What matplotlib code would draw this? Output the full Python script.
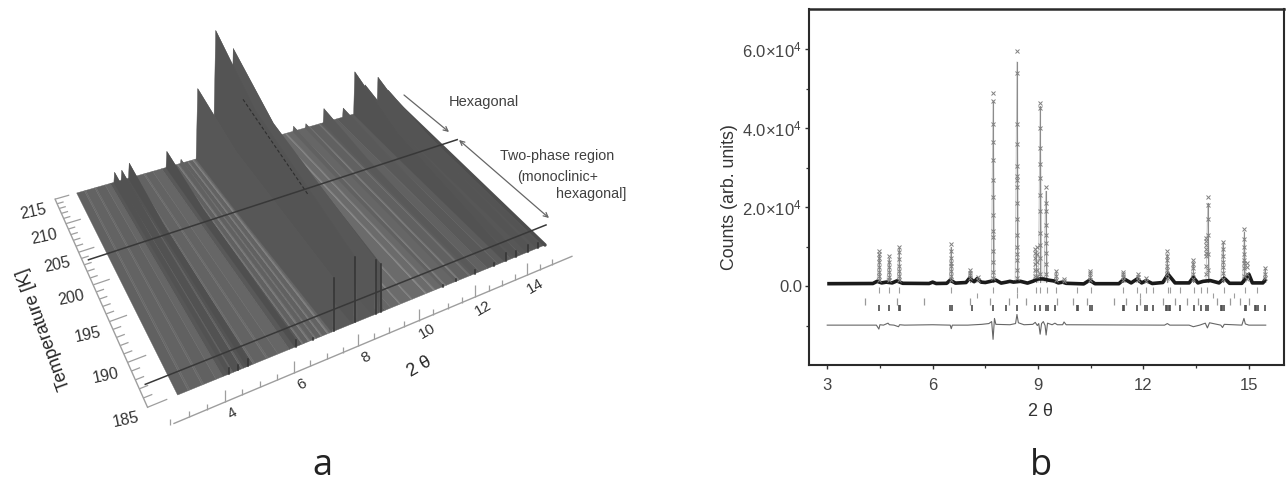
import numpy as np
import matplotlib
matplotlib.use("Agg")
import matplotlib.pyplot as plt
from matplotlib.collections import PolyCollection, LineCollection
from matplotlib.transforms import Transform
from matplotlib.ticker import FixedLocator, FixedFormatter

plt.rcParams['font.family'] = ['Liberation Sans', 'DejaVu Sans']
plt.rcParams['mathtext.default'] = 'regular'

# ---------- panel a data ----------
strip_edges = [3.0, 3.3, 3.35, 3.7, 3.75, 4.1, 4.3, 4.55, 4.6, 4.85, 4.9, 5.2, 5.25, 5.6, 5.65, 5.95, 6.3, 6.7, 6.74,
               6.9, 6.95, 7.1, 7.14, 7.3, 7.34, 7.5, 7.55, 7.7, 9.4, 9.6, 9.9, 9.94, 10.3, 10.34, 10.8, 10.85,
               11.1, 11.15, 11.5, 11.55, 12.0, 12.05, 12.4, 12.45, 12.8, 13.1, 13.5, 14.0, 14.4, 14.8, 15.4]
strip_grey = [0.38, 0.41, 0.39, 0.41, 0.38, 0.40, 0.34, 0.39, 0.32, 0.39, 0.33, 0.42, 0.39, 0.42, 0.39, 0.40, 0.35,
              0.45, 0.38, 0.47, 0.39, 0.45, 0.38, 0.47, 0.39, 0.49, 0.40, 0.35, 0.40, 0.41, 0.50, 0.42, 0.50, 0.42,
              0.52, 0.42, 0.50, 0.41, 0.48, 0.40, 0.47, 0.38, 0.42, 0.36, 0.38, 0.35, 0.36, 0.34, 0.34, 0.34]
ridge_T = [215, 204, 185]
peak_2theta = [15.1, 14.7, 14.2, 13.8, 13.35, 12.6, 11.9, 11.42, 9.25, 9.08, 8.4, 7.7, 7.05, 6.5, 5.04, 4.75, 4.47]
peak_height = [[14, 7, 5], [30, 14, 7], [26, 14, 6], [42, 22, 8], [9, 6, 3], [14, 8, 4], [4, 3, 2], [5, 4, 2],
               [88, 62, 48], [100, 73, 54], [123, 92, 65], [70, 57, 53], [4, 3, 2], [16, 10, 7],
               [15, 9, 7], [10, 7, 5], [10, 7, 6]]
peak_grey = [0.33, 0.33, 0.33, 0.32, 0.35, 0.35, 0.38, 0.38, 0.33, 0.34, 0.33, 0.34, 0.38, 0.31, 0.31, 0.32, 0.32]
boundary_T = [203.5, 187.2]
t_ticks = list(range(185, 216, 5))
t_minor = list(range(185, 216))
tt_ticks = [4, 6, 8, 10, 12, 14]
tt_minor = [2.5 + 0.5 * i for i in range(26)]

# ---------- panel b data ----------
bg_2theta = [3.0, 4.3, 4.42, 4.55, 4.68, 4.85, 4.98, 5.15, 5.9, 6.0, 6.1, 6.4, 6.5, 6.65, 6.95, 7.05, 7.18, 7.27,
             7.38, 7.5, 7.65, 7.8, 7.95, 8.1, 8.2, 8.3, 8.5, 8.7, 8.85, 9.0, 9.15, 9.3, 9.45, 9.58, 9.7, 9.8,
             10.3, 10.47, 10.62, 11.3, 11.45, 11.65, 11.82, 11.95, 12.08, 12.25, 12.55, 12.7, 12.9, 13.3, 13.42,
             13.55, 13.7, 13.9, 14.15, 14.3, 14.45, 14.8, 15.0, 15.1, 15.4, 15.48]
bg_counts = [600, 650, 1200, 800, 1000, 800, 1300, 700, 650, 1000, 650, 700, 1500, 750, 900, 2000, 1100, 1900,
             1000, 900, 1200, 1500, 750, 1000, 1200, 1000, 1200, 750, 1200, 1800, 1800, 1500, 1300, 800, 1000, 700,
             550, 1500, 600, 600, 1800, 800, 1800, 800, 1400, 650, 900, 3000, 800, 800, 2200, 800, 1200, 1400,
             800, 2000, 700, 700, 3000, 800, 800, 1800]
obs_centers = [4.47, 4.75, 5.04, 6.52, 7.05, 7.3, 7.72, 8.4, 8.9, 8.98, 9.06, 9.22, 9.5, 9.75, 10.47, 11.42,
               11.85, 12.08, 12.67, 13.4, 13.78, 13.83, 14.25, 14.87, 14.95, 15.45]
obs_counts = [
    [1500, 2500, 3600, 4800, 6000, 7200, 8200, 8800],
    [1500, 2400, 3500, 4800, 6200, 7700],
    [1500, 2600, 3800, 5100, 6800, 8600, 10000],
    [1500, 2600, 3800, 5200, 5900, 7200, 8800, 10600],
    [2000, 2800, 3400, 4000],
    [1500, 2200],
    [2000, 3500, 6000, 9000, 12500, 14000, 18000, 22500, 27000, 32000, 36500, 41000, 47000, 49000],
    [2000, 4000, 6500, 8000, 10000, 13000, 17000, 21000, 25000, 27000, 28000, 30500, 36000, 41000, 54000, 59500],
    [2500, 4000, 5500, 7000, 8300, 9500],
    [2500, 4000, 6000, 8000, 10000],
    [3000, 7000, 10500, 13500, 19000, 23000, 27500, 31000, 35000, 40000, 45000, 46500],
    [3000, 5500, 8500, 11000, 13000, 15500, 19000, 21000, 25000],
    [1500, 2500, 3800],
    [1200, 1700],
    [1500, 2400, 3200, 3800],
    [1500, 2300, 3000, 3600],
    [1600, 2300, 3000],
    [1300, 2000],
    [2000, 3000, 4000, 5000, 6500, 7500, 8800],
    [1800, 3000, 4500, 5500, 6700],
    [3000, 5000, 7500, 8500, 9500, 10500, 11500, 12300],
    [4000, 8000, 13000, 17000, 20500, 22500],
    [1800, 3200, 4800, 6000, 7500, 9500, 11200],
    [2500, 4500, 5800, 6500, 8000, 10000, 12000, 14500],
    [1800, 3000, 4800, 5800],
    [2000, 3000, 4500],
]
fit_centers = [4.47, 4.75, 5.04, 6.52, 7.05, 7.72, 8.4, 8.93, 9.06, 9.22, 9.5, 10.47, 11.42, 11.85, 12.67, 13.4,
               13.83, 14.25, 14.87, 15.45]
fit_peak = [8200, 7200, 9600, 9800, 3800, 47000, 56800, 9000, 45500, 24000, 3500, 3500, 3400, 2800, 8200, 6200,
            21000, 10800, 13800, 4200]
bragg_row1 = [4.48, 4.75, 5.05, 6.52, 7.73, 8.41, 8.95, 9.06, 9.25, 9.50, 10.12, 10.50, 11.43, 11.83, 12.08, 12.27,
              12.69, 12.76, 13.05, 13.43, 13.64, 13.81, 14.28, 14.90, 15.23]
bragg_row2 = [7.27, 8.41, 11.89, 13.98, 14.57]
bragg_row3 = [4.07, 5.0, 5.76, 7.05, 7.62, 8.16, 8.66, 9.55, 9.99, 10.39, 11.17, 11.51, 11.91, 12.57, 12.91, 13.24,
              13.54, 14.09, 14.45, 14.74, 15.0]
bragg_row4 = [4.48, 4.75, 5.03, 5.07, 6.50, 6.54, 7.11, 7.73, 8.09, 8.40, 8.92, 9.06, 9.23, 9.27, 9.48, 10.10, 10.14,
              10.48, 10.53, 11.41, 11.45, 11.83, 12.04, 12.09, 12.27, 12.64, 12.68, 12.72, 12.76, 13.05, 13.43, 13.64,
              13.79, 13.83, 14.2, 14.24, 14.28, 14.88, 14.92, 15.17, 15.21, 15.25, 15.47]
diff_2theta = [3.0, 4.4, 4.47, 4.5, 4.6, 4.73, 4.77, 4.9, 5.03, 5.06, 5.2, 6.0, 6.5, 6.53, 6.56, 7.0, 7.4, 7.6, 7.68,
               7.72, 7.76, 7.8, 8.2, 8.36, 8.4, 8.44, 8.6, 8.85, 8.92, 8.98, 9.02, 9.06, 9.1, 9.15, 9.2, 9.23, 9.27,
               9.4, 9.48, 9.55, 9.7, 9.74, 9.8, 12.6, 12.68, 12.75, 13.3, 13.42, 13.6, 13.76, 13.82, 13.88, 14.2,
               14.25, 14.3, 14.8, 14.86, 14.9, 15.0, 15.48]
diff_counts = [-9900, -9900, -10900, -9800, -9900, -9400, -9800, -9900, -10300, -9800, -9900, -9800, -9900, -10800,
               -9900, -9900, -9700, -9500, -9000, -13500, -8200, -9700, -9800, -9500, -7200, -9300, -9800, -9700,
               -9200, -10000, -9500, -12200, -9500, -9000, -10000, -12400, -9400, -9800, -9400, -9800, -9800, -9100,
               -9800, -9900, -9500, -9900, -9900, -10300, -9900, -9400, -10600, -9300, -9900, -10500, -9700, -9900,
               -8200, -9600, -9900, -9900]


class SurfaceProjection(Transform):
    """Maps (2 theta, temperature, height) on to the perspective view of panel a."""
    input_dims = 3
    output_dims = 2
    has_inverse = False
    A = np.array([177.6, 395.0])
    B = np.array([545.0, 245.0])
    C = np.array([396.0, 102.0])
    D = np.array([76.7, 193.0])

    def transform_non_affine(self, values):
        vals = np.asarray(values, dtype=float)
        u = (vals[:, 0] - 3.0) / 12.4
        v = (vals[:, 1] - 185.0) / 30.0
        f = v + 0.35 * v * (1 - v)
        us = u + 0.195 * (1 - f) * u * (1 - u)
        front = self.A[None, :] + us[:, None] * (self.B - self.A)[None, :]
        back = self.D[None, :] + us[:, None] * (self.C - self.D)[None, :]
        p = (1 - f)[:, None] * front + f[:, None] * back
        p[:, 1] -= vals[:, 2]
        return p

    def transform(self, values):
        return self.transform_non_affine(values)


proj = SurfaceProjection()


def P(tt, T, z=0.0):
    tt, T, z = np.broadcast_arrays(np.atleast_1d(tt), np.atleast_1d(T), np.atleast_1d(z))
    return proj.transform(np.column_stack([tt, T, z]))


fig = plt.figure(figsize=(12.87, 4.83), dpi=100, facecolor='white')

# ---------- panel a ----------
axa = fig.add_axes([0, 0, 640 / 1287, 1])
axa.set_xlim(0, 640)
axa.set_ylim(483, 0)
axa.axis('off')

polys, cols = [], []
for i, g in enumerate(strip_grey):
    l, r = strip_edges[i], strip_edges[i + 1]
    Ts = [185, 215, 215, 185]
    polys.append(P([l, l, r, r], Ts))
    cols.append(str(g))
axa.add_collection(PolyCollection(polys, facecolors=cols, edgecolors=cols, linewidths=0.3, zorder=1))

axa.plot(*P([15.4, 15.4], [185, 215]).T, color='0.30', lw=2.5, zorder=1.5, solid_capstyle='round')

Ts_r = np.array(ridge_T, dtype=float)
for pos, hts, g in zip(peak_2theta, peak_height, peak_grey):
    w = 0.02 + 0.0006 * max(hts)
    ridge = P(np.full(3, pos), Ts_r, np.array(hts, dtype=float))
    foot_l = P(np.full(3, pos - w), Ts_r)
    foot_r = P(np.full(3, pos + w), Ts_r)
    axa.add_patch(plt.Polygon(np.vstack([foot_r, ridge[::-1]]), closed=True, fc=str(g + 0.03), ec='none', zorder=2))
    axa.add_patch(plt.Polygon(np.vstack([foot_l, ridge[::-1]]), closed=True, fc=str(g), ec=str(g), lw=0.3, zorder=2))
    axa.plot(*np.vstack([ridge[-1], P(pos, 185)]).T, color='0.2', lw=1.1, zorder=2.1)

dash = P([8.4, 8.4], [207, 193], [88, 72])
axa.plot(*dash.T, color='0.18', lw=0.8, ls=(0, (3, 2)), zorder=2.2)

for T0 in boundary_T:
    ln = P([2.35, 16.05], [T0, T0])
    axa.plot(*ln.T, color='0.22', lw=1.1, zorder=3)

# axes of panel a
axis_T = 182.6
axis_tt = 2.16
ax_col = '0.62'
axa.plot(*P([2.6, 15.85], [axis_T, axis_T]).T, color=ax_col, lw=1.0, zorder=1)
axa.plot(*P([axis_tt, axis_tt], [185, 215]).T, color=ax_col, lw=1.0, zorder=1)
segs = []
for tv in tt_minor:
    major = tv in tt_ticks
    segs.append(P([tv, tv], [axis_T, axis_T], [0, 12 if major else 6]))
for Tv in t_minor:
    major = Tv in t_ticks
    segs.append(P([axis_tt, axis_tt + (0.55 if major else 0.25)], [Tv, Tv]))
axa.add_collection(LineCollection(segs, colors=ax_col, linewidths=0.9, zorder=1))

for tv in tt_ticks:
    p = P(tv, axis_T)[0]
    axa.text(p[0] + 8, p[1] + 11, str(tv), rotation=30, ha='center', va='center', fontsize=11, color='0.2')
for Tv in t_ticks:
    p = P(axis_tt, Tv)[0]
    axa.text(p[0] - 22, p[1] + 13, str(Tv), rotation=12, ha='center', va='center', fontsize=11.5, color='0.2')
axa.text(44, 329, 'Temperature [K]', rotation=110, ha='center', va='center', fontsize=13, color='0.15')
axa.text(420, 367, '2 θ', rotation=30, ha='center', va='center', fontsize=13, color='0.15')
axa.text(484, 102, 'Hexagonal', ha='center', va='center', fontsize=10.5, color='0.25')
axa.text(557, 156, 'Two-phase region', ha='center', va='center', fontsize=10.3, color='0.25')
axa.text(558, 177, '(monoclinic+', ha='center', va='center', fontsize=10.3, color='0.25')
axa.text(591, 194, 'hexagonal]', ha='center', va='center', fontsize=10.3, color='0.25')
axa.annotate('', xy=(449, 132), xytext=(404, 95),
             arrowprops=dict(arrowstyle='->', color='0.4', lw=0.9, mutation_scale=8, shrinkA=0, shrinkB=0))
axa.annotate('', xy=(549, 218), xytext=(459, 140),
             arrowprops=dict(arrowstyle='<->', color='0.4', lw=0.9, mutation_scale=8, shrinkA=0, shrinkB=0))
axa.text(322, 466, 'a', family='Open Sans', ha='center', va='center', fontsize=26, color='#222222')

# ---------- panel b ----------
axb = fig.add_axes([808.6 / 1287, (483 - 365) / 483, (1284 - 808.6) / 1287, (365 - 9) / 483])
axb.set_xlim(2.47, 16.0)
axb.set_ylim(-2.0e4, 7.02e4)

for c, h in zip(fit_centers, fit_peak):
    axb.plot([c - 0.05, c, c + 0.05], [1000, h, 1000], color='0.78', lw=0.7, zorder=1.5)
    axb.plot([c, c], [1000, h], color='0.55', lw=0.8, zorder=1.6)
axb.plot(bg_2theta, bg_counts, color='#1a1a1a', lw=2.6, zorder=2, solid_capstyle='butt')
obs_x, obs_y = [], []
for c, vals in zip(obs_centers, obs_counts):
    obs_x.extend([c] * len(vals))
    obs_y.extend(vals)
axb.plot(obs_x, obs_y, ls='none', marker='x', ms=3.0, mew=0.7, color='0.5', zorder=3)

axb.vlines(bragg_row1, -1700, -300, color='0.62', lw=0.8)
axb.vlines(bragg_row2, -3000, -1700, color='0.62', lw=0.8)
axb.vlines(bragg_row3, -4700, -3000, color='0.6', lw=0.9)
axb.vlines(bragg_row4, -6300, -4700, color='0.3', lw=1.2)
axb.plot(diff_2theta, diff_counts, color='0.4', lw=0.8, zorder=2)

for s in axb.spines.values():
    s.set_color('#2a2a2a')
    s.set_linewidth(1.5)
axb.spines['top'].set_linewidth(1.8)
axb.xaxis.set_major_locator(FixedLocator([3, 6, 9, 12, 15]))
axb.xaxis.set_minor_locator(FixedLocator([4.5, 7.5, 10.5, 13.5]))
axb.yaxis.set_major_locator(FixedLocator([0, 2e4, 4e4, 6e4]))
axb.yaxis.set_major_formatter(FixedFormatter(['0.0', '2.0×10$^{4}$', '4.0×10$^{4}$', '6.0×10$^{4}$']))
axb.yaxis.set_minor_locator(FixedLocator([-1e4, 1e4, 3e4, 5e4]))
axb.tick_params(axis='both', which='major', length=3.2, width=1.0, labelsize=12, labelcolor='#444444', color='#333333')
axb.tick_params(axis='x', which='major', pad=6)
axb.tick_params(axis='y', which='major', pad=1.5)
axb.tick_params(axis='both', which='minor', length=2, width=0.9, color='#333333')
fig.text(1040 / 1287, 1 - 412 / 483, '2 θ', ha='center', va='center', fontsize=13, color='#333333')
fig.text(729 / 1287, 1 - 197 / 483, 'Counts (arb. units)', rotation=90, ha='center', va='center', fontsize=12.8, color='#333333')
fig.text(1041 / 1287, 1 - 466 / 483, 'b', family='Open Sans', ha='center', va='center', fontsize=26, color='#222222')

fig.savefig('out.png', dpi=100, facecolor='white')
